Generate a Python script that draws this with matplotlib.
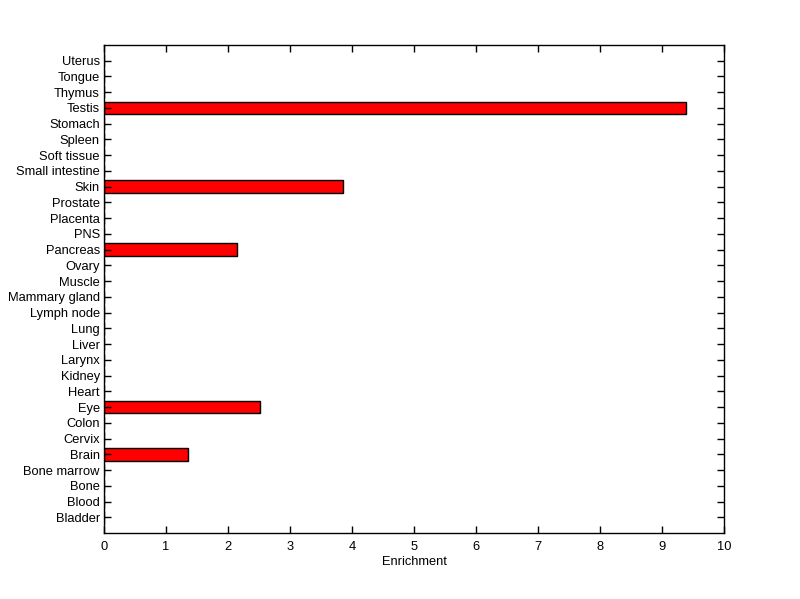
import matplotlib
matplotlib.use('Agg')
import matplotlib.pyplot as plt

# Tissue categories, bottom to top
tissues = ['Bladder', 'Blood', 'Bone', 'Bone marrow', 'Brain', 'Cervix', 'Colon',
           'Eye', 'Heart', 'Kidney', 'Larynx', 'Liver', 'Lung', 'Lymph node',
           'Mammary gland', 'Muscle', 'Ovary', 'Pancreas', 'PNS', 'Placenta',
           'Prostate', 'Skin', 'Small intestine', 'Soft tissue', 'Spleen',
           'Stomach', 'Testis', 'Thymus', 'Tongue', 'Uterus']

# Enrichment values (zero where no bar is drawn)
enrichment = [0, 0, 0, 0, 1.36, 0, 0,
              2.52, 0, 0, 0, 0, 0, 0,
              0, 0, 0, 2.15, 0, 0,
              0, 3.86, 0, 0, 0,
              0, 9.38, 0, 0, 0]

xticks = list(range(0, 11))


def main():
    plt.rcParams['font.family'] = ['Liberation Sans', 'DejaVu Sans']
    fig = plt.figure(figsize=(8, 5.99), dpi=100)
    ax = fig.add_axes([0.13, 0.11, 0.775, 0.815])

    pos = list(range(1, len(tissues) + 1))
    ax.barh(pos, enrichment, height=0.8, color='red',
            edgecolor='black', linewidth=1.0)

    ax.set_xlim(0, 10)
    ax.set_ylim(0, len(tissues) + 1)
    ax.set_xticks(xticks)
    ax.set_yticks(pos)
    ax.set_yticklabels(tissues)
    ax.tick_params(direction='in', length=5, width=1, labelsize=9.3,
                   top=True, right=True)
    ax.tick_params(axis='x', pad=6)
    ax.tick_params(axis='y', pad=3)
    for s in ax.spines.values():
        s.set_linewidth(1)
    ax.set_xlabel('Enrichment', fontsize=9.3, labelpad=2)

    fig.savefig('out.png', dpi=100)


if __name__ == "__main__":
    main()
